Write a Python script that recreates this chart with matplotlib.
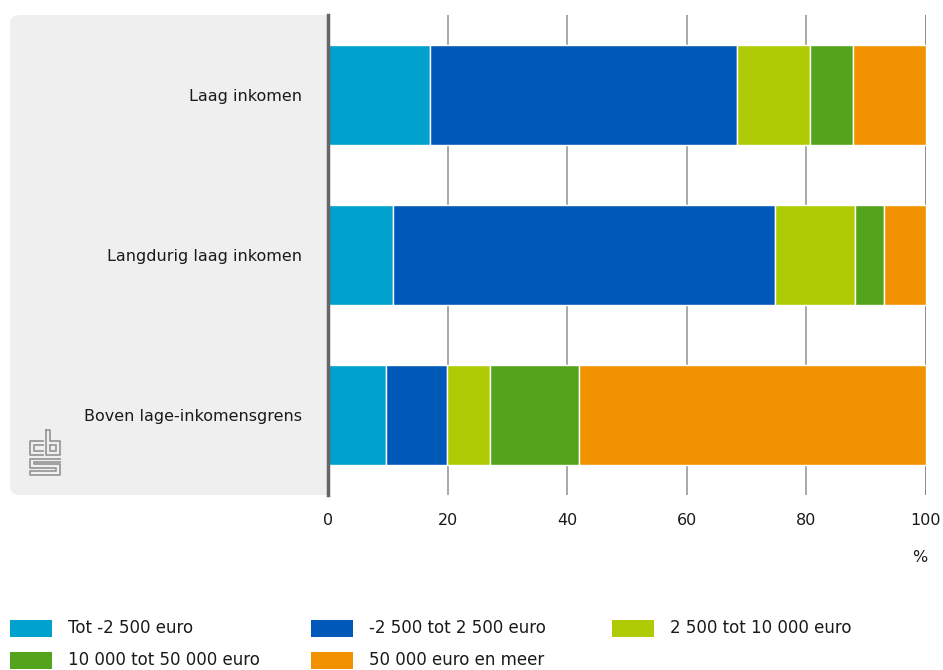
import matplotlib
matplotlib.use("Agg")
import matplotlib.pyplot as plt
from matplotlib.patches import FancyBboxPatch, Rectangle
from matplotlib.lines import Line2D

plt.rcParams['font.family'] = ['Liberation Sans Narrow', 'DejaVu Sans']

# data
groups = ["Laag inkomen", "Langdurig laag inkomen", "Boven lage-inkomensgrens"]
series = ["Tot -2 500 euro", "-2 500 tot 2 500 euro", "2 500 tot 10 000 euro",
          "10 000 tot 50 000 euro", "50 000 euro en meer"]
tot_min2500 = [17.1, 10.8, 9.7]
min2500_2500 = [51.3, 63.9, 10.2]
v2500_10000 = [12.2, 13.4, 7.2]
v10000_50000 = [7.2, 4.8, 14.8]
v50000_meer = [12.2, 7.1, 58.1]
colors = ["#00a1cd", "#0058b8", "#afcb05", "#53a31d", "#f39200"]
xticks = [0, 20, 40, 60, 80, 100]

W, H = 943, 670
fig = plt.figure(figsize=(W / 100, H / 100), dpi=100)


def fx(px):
    return px / W


def fy(py):
    return 1 - py / H


# gray panel behind the labels
panel = FancyBboxPatch((fx(10), fy(495)), fx(340) - fx(10), fy(15) - fy(495),
                       boxstyle="round,pad=0,rounding_size=0.012",
                       transform=fig.transFigure, facecolor="#efefef",
                       edgecolor="none", zorder=-1)
fig.patches.append(panel)

ax = fig.add_axes([fx(328), fy(495), fx(926) - fx(328), fy(15) - fy(495)])
ax.set_facecolor("white")

values = [tot_min2500, min2500_2500, v2500_10000, v10000_50000, v50000_meer]
ypos = list(range(len(groups)))
left = [0.0] * len(groups)
for name, vals, col in zip(series, values, colors):
    ax.barh(ypos, vals, left=left, height=0.625, color=col,
            edgecolor="white", linewidth=1, label=name, zorder=3)
    left = [l + v for l, v in zip(left, vals)]

ax.set_xlim(0, 100)
ax.set_ylim(2.5, -0.5)
ax.set_xticks(xticks)
ax.set_xticklabels([str(t) for t in xticks])
ax.set_yticks(ypos)
ax.set_yticklabels(groups)
for t in xticks[1:]:
    ax.axvline(t, color="#999999" if t < 100 else "#777777", lw=1.2, zorder=1)

for s in ["top", "right", "bottom"]:
    ax.spines[s].set_visible(False)
ax.spines["left"].set_color("#666666")
ax.spines["left"].set_linewidth(2.5)
ax.spines["left"].set_zorder(4)
ax.tick_params(axis="y", length=0, pad=19, labelsize=11.5, labelcolor="#1a1a1a")
ax.tick_params(axis="x", length=0, pad=13, labelsize=11.5, labelcolor="#1a1a1a")

fig.text(fx(920), fy(557), "%", ha="center", va="center", fontsize=11.5, color="#1a1a1a")

# legend
leg_cols = [10, 311, 612]
leg_rows = [628, 660]
for i, (name, col) in enumerate(zip(series, colors)):
    x0 = leg_cols[i % 3]
    y0 = leg_rows[i // 3]
    fig.patches.append(Rectangle((fx(x0), fy(y0 + 8.5)), fx(42), 17 / H,
                                 transform=fig.transFigure, facecolor=col,
                                 edgecolor="none"))
    fig.text(fx(x0 + 58), fy(y0), name, ha="left", va="center",
             fontsize=12, color="#1a1a1a")

# cbs logo (rough outline)
logo = [
    [(43, 441), (30, 441), (30, 455), (43, 455)],
    [(43, 445), (34, 445), (34, 451), (43, 451)],
    [(46, 430), (46, 455), (60, 455), (60, 441), (50, 441), (50, 430), (46, 430)],
    [(50, 445), (56, 445), (56, 451), (50, 451), (50, 445)],
    [(60, 459), (30, 459), (30, 468), (56, 468), (56, 471), (30, 471),
     (30, 475), (60, 475), (60, 464), (34, 464), (34, 462), (60, 462)],
]
for pts in logo:
    xs = [fx(p[0]) for p in pts]
    ys = [fy(p[1]) for p in pts]
    fig.lines.append(Line2D(xs, ys, transform=fig.transFigure,
                            color="#9a9a9a", lw=1.3))

fig.savefig("out.png", dpi=100)
